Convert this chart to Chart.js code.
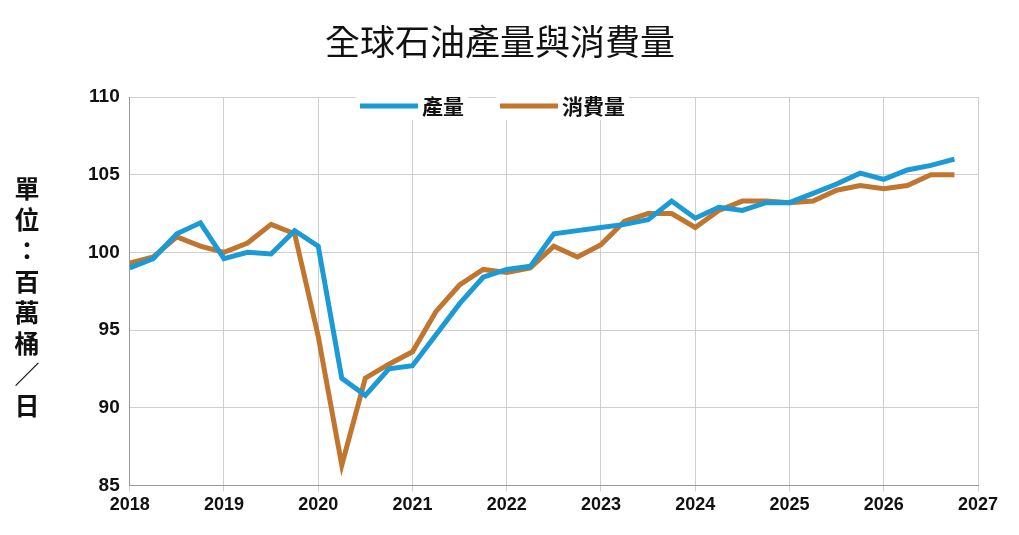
<!DOCTYPE html>
<html>
<head>
<meta charset="utf-8">
<script src="https://cdn.jsdelivr.net/npm/chart.js@4"></script>
<style>
  body { margin: 0; background: #fff; }
  #wrap { position: relative; width: 1019px; height: 535px; }
  #title { position: absolute; top: 14px; left: 0; width: 1000px; text-align: center;
    font: 35px "Noto Sans CJK TC", sans-serif; color: #111; }
  #ylab { position: absolute; left: 12px; top: 172px; width: 30px;
    font: bold 25px "Noto Sans CJK TC", sans-serif; line-height: 31px; color: #111; text-align: center; }
</style>
</head>
<body>
<div id="wrap">
  <canvas id="chart" width="1019" height="535"></canvas>
  <div id="title">全球石油產量與消費量</div>
  <div id="ylab">單<br>位<br>：<br>百<br>萬<br>桶<br>／<br>日</div>
</div>
<script>
// 季度資料 2018Q1 - 2026Q4
const years = [];
for (let y = 2018; y < 2027; y++) for (let q = 0; q < 4; q++) years.push(y + q * 0.25);

const production = [99.0, 99.6, 101.2, 101.9, 99.6, 100.0, 99.9, 101.4, 100.4, 91.9, 90.8, 92.5,
  92.7, 94.7, 96.7, 98.4, 98.9, 99.1, 101.2, 101.4, 101.6, 101.8, 102.1, 103.3,
  102.2, 102.9, 102.7, 103.2, 103.2, 103.8, 104.4, 105.1, 104.7, 105.3, 105.6, 106.0];
const consumption = [99.3, 99.7, 101.0, 100.4, 100.0, 100.6, 101.8, 101.2, 94.6, 86.3, 91.9, 92.8,
  93.6, 96.2, 97.9, 98.9, 98.7, 99.0, 100.4, 99.7, 100.5, 102.0, 102.5, 102.5,
  101.6, 102.7, 103.3, 103.3, 103.2, 103.3, 104.0, 104.3, 104.1, 104.3, 105.0, 105.0];
const seriesNames = ['產量', '消費量'];
const seriesColors = ['#1b9ad6', '#c0762e'];

// 圖例畫在圖內上方
const legendInside = {
    id: 'legendInside',
    afterDraw(chart) {
        const ctx = chart.ctx;
        const pos = [[360, 106], [500, 106]];
        ctx.save();
        ctx.font = 'bold 21px "Noto Sans CJK TC", sans-serif';
        ctx.textBaseline = 'middle';
        seriesNames.forEach((name, i) => {
            const [x, y] = pos[i];
            ctx.fillStyle = '#fff';
            ctx.fillRect(x - 4, y - 14, 60 + ctx.measureText(name).width + 10, 28);
            ctx.strokeStyle = seriesColors[i];
            ctx.lineWidth = 5;
            ctx.beginPath();
            ctx.moveTo(x, y);
            ctx.lineTo(x + 58, y);
            ctx.stroke();
            ctx.fillStyle = '#111';
            ctx.fillText(name, x + 62, y);
        });
        ctx.restore();
    }
};

const mkData = (vals) => years.map((x, i) => ({ x: x, y: vals[i] }));

new Chart(document.getElementById('chart'), {
    type: 'line',
    data: {
        datasets: [
            { label: seriesNames[0], data: mkData(production), borderColor: seriesColors[0], borderWidth: 5, pointRadius: 0, tension: 0 },
            { label: seriesNames[1], data: mkData(consumption), borderColor: seriesColors[1], borderWidth: 5, pointRadius: 0, tension: 0 }
        ]
    },
    options: {
        responsive: false,
        animation: false,
        layout: { padding: { left: 78, right: 41, top: 97, bottom: 16 } },
        plugins: { legend: { display: false }, tooltip: { enabled: false } },
        scales: {
            x: {
                type: 'linear', min: 2018, max: 2027,
                ticks: { stepSize: 1, color: '#111', callback: (v) => String(v), font: { size: 18, weight: 'bold', family: 'Arial' } },
                grid: { color: '#cfcfcf', tickLength: 6 },
                border: { color: '#999' }
            },
            y: {
                min: 85, max: 110,
                ticks: { stepSize: 5, color: '#111', padding: 10, font: { size: 19, weight: 'bold', family: 'Arial' } },
                grid: { color: '#cfcfcf', tickLength: 0 },
                border: { color: '#999' }
            }
        }
    },
    plugins: [legendInside]
});
</script>
</body>
</html>
